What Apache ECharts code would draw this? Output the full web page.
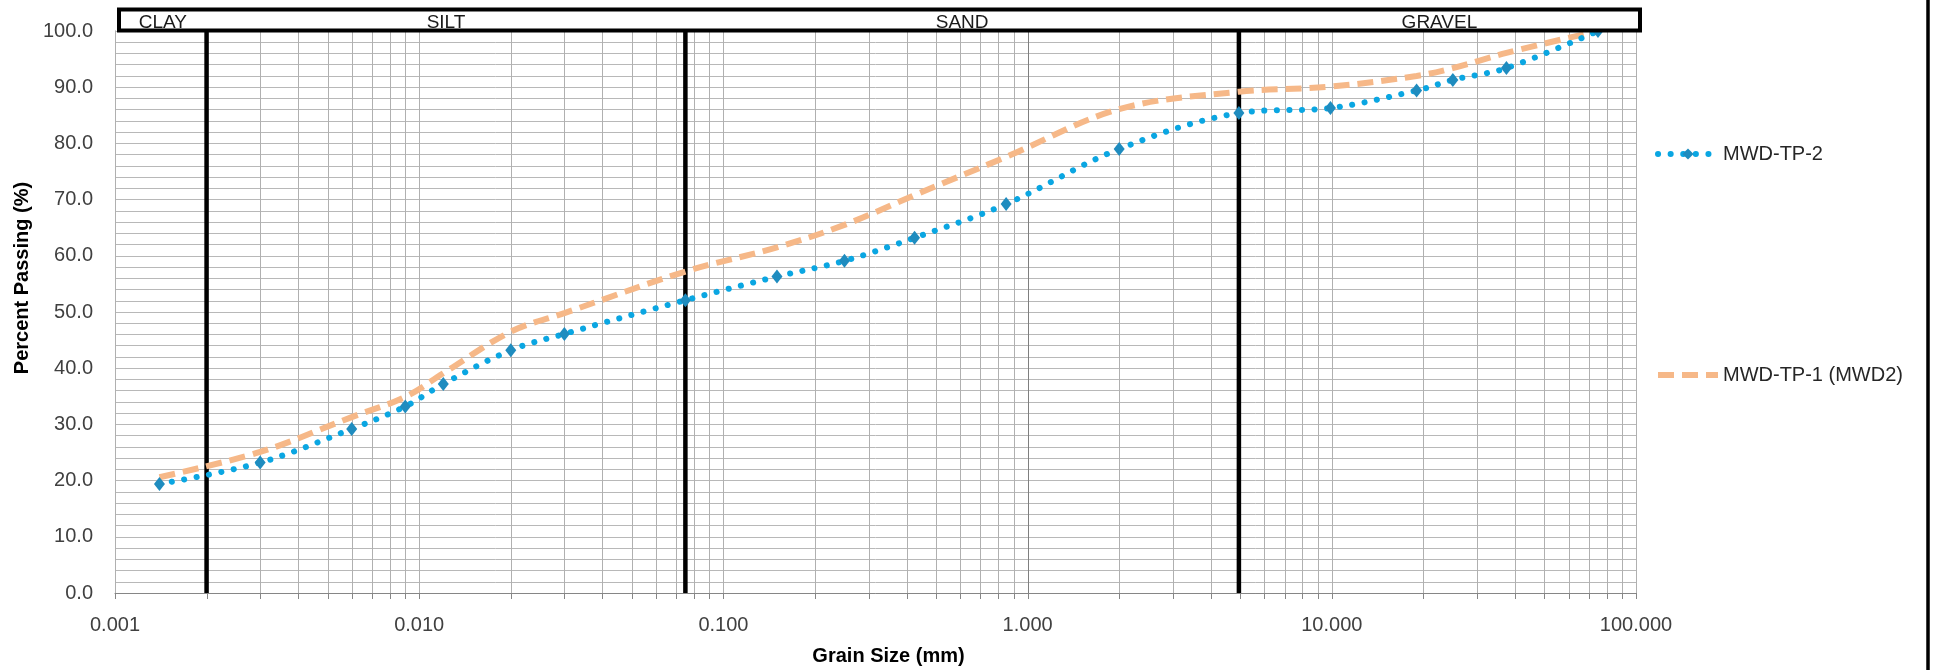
<!DOCTYPE html>
<html>
<head>
<meta charset="utf-8">
<title>Grain Size Distribution</title>
<script src="https://cdn.jsdelivr.net/npm/echarts@6/dist/echarts.min.js"></script>
<style>
  html, body { margin: 0; padding: 0; background: #fff; }
  #chart { width: 1937px; height: 670px; }
</style>
</head>
<body>
<div id="chart"></div>
<script>
// sieve / hydrometer sizes (mm)
var grainSize = [0.0014, 0.003, 0.006, 0.009, 0.012, 0.02, 0.03, 0.075, 0.15, 0.25, 0.425, 0.85, 2.0, 4.95, 9.9, 19, 25, 37.5, 75];
// percent passing
var tp2Pass = [19.4, 23.2, 29.2, 33.2, 37.2, 43.2, 46.1, 52.1, 56.3, 59.1, 63.2, 69.2, 79.0, 85.4, 86.3, 89.4, 91.3, 93.4, 100];
var tp1Pass = [20.6, 25.1, 31.3, 34.9, 39.1, 46.5, 49.8, 57.2, 61.5, 65.5, 70.8, 77.6, 86.1, 89.2, 90.1, 92.0, 93.4, 96.1, 100];
var seriesNames = ['MWD-TP-2', 'MWD-TP-1 (MWD2)'];
// soil class boundaries (mm) and band labels
var bandEdges = [0.002, 0.075, 4.95];
var bandNames = ['CLAY', 'SILT', 'SAND', 'GRAVEL'];

var font = 'Liberation Sans';

// log paper vertical lines: 1..9 in every decade
var logLines = [];
for (var k = -3; k <= 1; k++) {
    for (var d = 1; d <= 9; d++) {
        logLines.push([Number((d * Math.pow(10, k)).toPrecision(3)), 0]);
    }
}
logLines.push([100, 0]);

function pairs(xs, ys) {
    return xs.map(function (x, i) { return [x, ys[i]]; });
}

var chart = echarts.init(document.getElementById('chart'));

var option = {
    backgroundColor: '#fff',
    animation: false,
    grid: {
        left: 115, right: 301, top: 31, bottom: 77,
        outerBoundsMode: 'none'
    },
    legend: [{
        data: [seriesNames[0]],
        left: 1650, top: 139,
        itemWidth: 60, itemHeight: 14,
        lineStyle: { width: 6 },
        textStyle: { fontFamily: font, fontSize: 20, color: '#262626' }
    }, {
        data: [seriesNames[1]],
        left: 1650, top: 360,
        itemWidth: 60, itemHeight: 14,
        lineStyle: { width: 6 },
        itemStyle: { color: 'rgba(0,0,0,0)', borderWidth: 0 },
        textStyle: { fontFamily: font, fontSize: 20, color: '#262626' }
    }],
    xAxis: {
        type: 'log',
        logBase: 10,
        min: 0.001,
        max: 100,
        name: 'Grain Size (mm)',
        nameLocation: 'middle',
        nameGap: 53,
        nameTextStyle: { fontFamily: font, fontSize: 20, fontWeight: 'bold', color: '#000', padding: [0, 0, 0, 26] },
        axisLine: { lineStyle: { color: '#868686', width: 1 } },
        axisTick: { show: false },
        splitLine: { show: false },
        axisLabel: {
            fontFamily: font, fontSize: 20, color: '#404040', margin: 22,
            formatter: function (v) { return Number(v).toFixed(3); }
        }
    },
    yAxis: {
        type: 'value',
        min: 0,
        max: 100,
        interval: 10,
        name: 'Percent Passing (%)',
        nameLocation: 'middle',
        nameGap: 83,
        nameTextStyle: { fontFamily: font, fontSize: 20, fontWeight: 'bold', color: '#000', padding: [0, 0, 0, 68] },
        axisLine: { show: true, lineStyle: { color: '#868686', width: 1 } },
        axisTick: { show: false },
        axisLabel: {
            fontFamily: font, fontSize: 20, color: '#404040', margin: 22,
            formatter: function (v) { return v.toFixed(1); }
        },
        splitLine: { lineStyle: { color: '#b8b8b8', width: 1 } },
        minorTick: { show: false, splitNumber: 5 },
        minorSplitLine: { show: true, lineStyle: { color: '#b8b8b8', width: 1 } }
    },
    series: [{
        // log grid lines + small ticks under the axis
        type: 'custom',
        silent: true,
        z: 1,
        encode: { x: 0, y: 1 },
        data: logLines,
        renderItem: function (params, api) {
            var v = api.value(0);
            var p0 = api.coord([v, 0]);
            var p1 = api.coord([v, 100]);
            var x = Math.round(p0[0]) + 0.5;
            var dark = Math.abs(v - 1) < 1e-9;
            return {
                type: 'group',
                children: [{
                    type: 'line',
                    shape: { x1: x, y1: p1[1], x2: x, y2: p0[1] },
                    style: { stroke: dark ? '#7f7f7f' : '#b0b0b0', lineWidth: 1 }
                }, {
                    type: 'line',
                    shape: { x1: x, y1: p0[1], x2: x, y2: p0[1] + 6 },
                    style: { stroke: '#868686', lineWidth: 1 }
                }]
            };
        }
    }, {
        // class boundary lines
        type: 'custom',
        silent: true,
        z: 2,
        encode: { x: 0, y: 1 },
        data: bandEdges.map(function (v) { return [v, 0]; }),
        renderItem: function (params, api) {
            var v = api.value(0);
            var p0 = api.coord([v, 0]);
            var p1 = api.coord([v, 100]);
            return {
                type: 'line',
                shape: { x1: p0[0], y1: p1[1], x2: p0[0], y2: p0[1] },
                style: { stroke: '#000', lineWidth: 4.5 }
            };
        }
    }, {
        name: seriesNames[1],
        type: 'line',
        z: 3,
        smooth: 0.35,
        showSymbol: false,
        symbol: 'none',
        data: pairs(grainSize, tp1Pass),
        itemStyle: { color: '#f6b888' },
        lineStyle: { color: '#f6b888', width: 6, type: [16, 8] }
    }, {
        name: seriesNames[0],
        type: 'line',
        z: 4,
        smooth: 0.35,
        symbol: 'diamond',
        symbolSize: [11, 14],
        data: pairs(grainSize, tp2Pass),
        itemStyle: { color: '#1f8cbf' },
        lineStyle: { color: '#0aa6e2', width: 6, type: [0.1, 12.5], cap: 'round' }
    }]
};

chart.setOption(option);

// band label box drawn above the plot, placed from the axis scale
var xL = chart.convertToPixel({ xAxisIndex: 0 }, 0.001);
var xR = chart.convertToPixel({ xAxisIndex: 0 }, 100);
var yTop = chart.convertToPixel({ yAxisIndex: 0 }, 100);
var edgesPx = [xL + 4].concat(bandEdges.map(function (v) {
    return chart.convertToPixel({ xAxisIndex: 0 }, v);
})).concat([xR + 4]);

var gfx = [{
    type: 'rect',
    shape: { x: xL + 4, y: yTop - 21.5, width: xR - xL, height: 21 },
    style: { fill: '#fff', stroke: '#000', lineWidth: 4 },
    z: 10
}];
bandNames.forEach(function (name, i) {
    gfx.push({
        type: 'text',
        x: (edgesPx[i] + edgesPx[i + 1]) / 2,
        y: yTop + 1,
        z: 11,
        style: {
            text: name,
            fontFamily: font,
            fontSize: 19,
            fill: '#1a1a1a',
            align: 'center',
            verticalAlign: 'bottom'
        }
    });
});
gfx.push({
    type: 'line',
    shape: { x1: 1928, y1: 0, x2: 1928, y2: 670 },
    style: { stroke: '#000', lineWidth: 3.5 },
    z: 10
});
chart.setOption({ graphic: gfx });
</script>
</body>
</html>
